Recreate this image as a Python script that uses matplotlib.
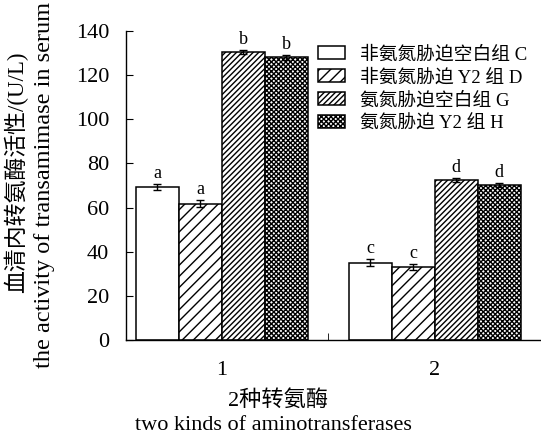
import matplotlib
matplotlib.use("Agg")
import matplotlib.pyplot as plt
import numpy as np

plt.rcParams['font.family'] = ['Liberation Serif', 'Noto Sans CJK SC']
plt.rcParams['hatch.linewidth'] = 1.0

groups = ['1', '2']
series = ['非氨氮胁迫空白组 C', '非氨氮胁迫 Y2 组 D', '氨氮胁迫空白组 G', '氨氮胁迫 Y2 组 H']
values = [
    [69.3, 35.0],
    [61.8, 33.0],
    [130.4, 72.4],
    [128.0, 70.2],
]
errors = [
    [1.5, 1.5],
    [1.5, 1.5],
    [1.0, 1.0],
    [1.0, 1.0],
]
letters = [
    ['a', 'c'],
    ['a', 'c'],
    ['b', 'd'],
    ['b', 'd'],
]
hatches = ['', '///', '//////', 'xxxxxxx']

W, H = 541, 443
fig = plt.figure(figsize=(W / 100, H / 100), dpi=100)
ax = fig.add_axes([126 / W, 1 - 340 / H, (W - 126) / W, (340 - 31) / H])

x = np.arange(1, len(groups) + 1)
w = 0.202
for i, (name, vals, errs, h) in enumerate(zip(series, values, errors, hatches)):
    pos = x + (i - 1.5) * w
    ax.bar(pos, vals, w, color='white', edgecolor='black', hatch=h,
           linewidth=1.1, label=name, zorder=2)
    ax.errorbar(pos, vals, yerr=errs, fmt='none', ecolor='black',
                elinewidth=1.0, capsize=3, capthick=1.0, zorder=3)
    for p, v, e, t in zip(pos, vals, errs, letters[i]):
        ax.text(p, v + e + 1.0, t, ha='center', va='bottom', fontsize=13)

ax.set_xlim(0.55, 2.5)
ax.set_ylim(0, 140)
ax.set_yticks(np.arange(0, 141, 20))
ax.set_xticks(x)
ax.set_xticklabels(groups)
ax.set_xticks([1.5], minor=True)
ax.tick_params(axis='both', which='both', direction='in', labelsize=16)
ax.tick_params(axis='x', which='major', length=0, pad=15)
ax.tick_params(axis='x', which='minor', length=5)
ax.tick_params(axis='y', length=5, pad=12)
for s in ['top', 'right']:
    ax.spines[s].set_visible(False)
for s in ['left', 'bottom']:
    ax.spines[s].set_linewidth(1.0)

# axis titles, Chinese line above English line
fig.text(16 / W, 1 - 172 / H, '血清内转氨酶活性/(U/L)', rotation=90,
         ha='center', va='center', fontsize=16.5)
fig.text(45 / W, 1 - 185 / H, 'the activity of transamimase in serum',
         rotation=90, ha='center', va='center', fontsize=17.5)
fig.text(278 / W, 1 - 400 / H, '2种转氨酶', ha='center', va='center',
         fontsize=16)
fig.text(273 / W, 1 - 425 / H, 'two kinds of aminotransferases',
         ha='center', va='center', fontsize=16)

leg = ax.legend(loc='upper left', bbox_to_anchor=(0.463, 0.952), frameon=False,
                fontsize=13.5, handlelength=1.45, handleheight=0.7,
                labelspacing=0.3, handletextpad=0.8, borderaxespad=0,
                borderpad=0)

fig.savefig('out.png', dpi=100)
